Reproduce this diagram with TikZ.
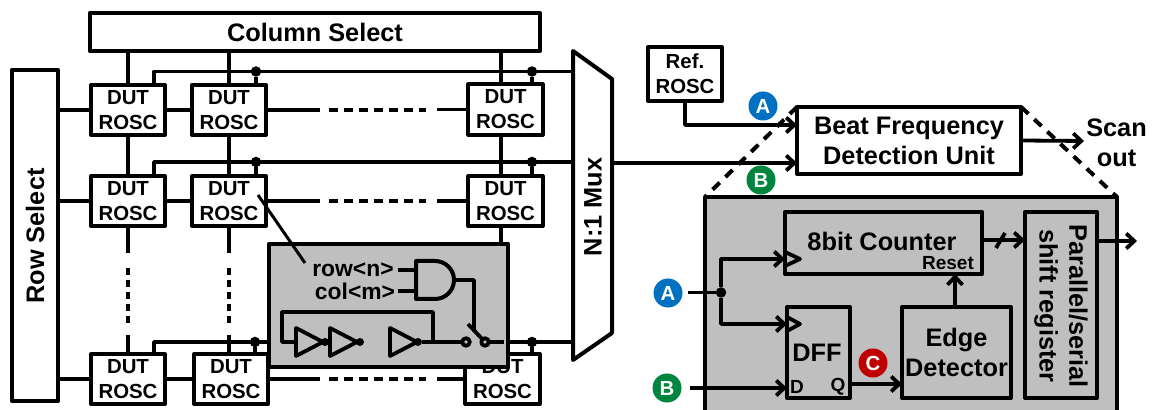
\documentclass[tikz,border=0pt]{standalone}
\usepackage{fontspec}
\setmainfont{Liberation Sans}
\usetikzlibrary{arrows.meta}
\definecolor{panelgray}{HTML}{BFBFBF}
\definecolor{markblue}{HTML}{0070C0}
\definecolor{markgreen}{HTML}{00853E}
\definecolor{markred}{HTML}{C00000}
\tikzset{
  bigtxt/.style={font=\bfseries\fontsize{7.2}{8.5}\selectfont},
  midtxt/.style={font=\bfseries\fontsize{6.5}{8}\selectfont},
  smalltxt/.style={font=\bfseries\fontsize{5.4}{6.5}\selectfont},
  block/.style={draw,line width=.4mm,rectangle,inner sep=0,outer sep=0,align=center},
  dutbox/.style={block,fill=white,minimum width=.74cm,minimum height=.5cm,
    font=\bfseries\fontsize{5.8}{7.1}\selectfont},
  badge/.style={circle,inner sep=0,outer sep=0,minimum size=.29cm,text=white,
    font=\bfseries\fontsize{5.8}{7}\selectfont},
  jdot/.style={circle,fill=black,inner sep=0,outer sep=0,minimum size=.105cm},
  invdot/.style={circle,fill=black,inner sep=0,outer sep=0,minimum size=.08cm},
  swpin/.style={circle,draw,fill=panelgray,inner sep=0,outer sep=0,minimum size=.075cm},
  rowdots/.style={dash pattern=on .9mm off .6mm},
  coldots/.style={dash pattern=on 2.7mm off 1.5mm on .7mm off .5mm on .7mm off .5mm on .7mm off .5mm
    on .7mm off .5mm on .7mm off 1.2mm on 3mm},
  zoomline/.style={dash pattern=on 1mm off .8mm,line width=.4mm}
}

\begin{document}
\begin{tikzpicture}[x=.01cm,y=-.01cm,line width=.38mm,line join=round,
  >={Straight Barb[length=.8mm,width=1.5mm]}]
\useasboundingbox (0,0) rectangle (1155,410);
% Select blocks
\node [block,minimum width=4.5cm,minimum height=.38cm,bigtxt] (colsel) at (315,32) {Column Select};
\node [block,minimum width=.46cm,minimum height=3.31cm] (rowsel) at (35,235.5) {};
\node [bigtxt,rotate=90] (rowtxt) at (35,236) {Row Select};
% DUT array
\node [dutbox] (d11) at (128,110) {DUT\\ROSC};
\node [dutbox] (d12) at (229,110) {DUT\\ROSC};
\node [dutbox] (d13) at (505.5,109.5) {DUT\\ROSC};
\node [dutbox] (d21) at (128,201) {DUT\\ROSC};
\node [dutbox] (d22) at (229,201) {DUT\\ROSC};
\node [dutbox] (d23) at (505.5,201) {DUT\\ROSC};
\node [dutbox] (d31) at (128,379) {DUT\\ROSC};
\node [dutbox] (d32) at (231,379) {DUT\\ROSC};
\node [dutbox] (d33) at (502.5,379) {DUT\\ROSC};
% Column wires
\coordinate (colc) at (501,51);
\draw (colsel.south -| d11.north) -- (d11.north);
\draw (colsel.south -| d12.north) -- (d12.north);
\draw (colc) -- (colc |- d13.north);
\draw (d11.south) -- (d21.north);
\draw (d12.south) -- (d22.north);
\draw (colc |- d13.south) -- (colc |- d23.north);
\draw [coldots] (d21.south) -- (d21.south |- d31.north);
\draw [coldots] (d22.south) -- (d22.south |- d32.north);
\draw (colc |- d23.south) -- (colc |- d33.north);
% Row wires
\coordinate (gapa) at (320,0);
\coordinate (gapb) at (329,0);
\coordinate (gapc) at (426,0);
\coordinate (gapd) at (437,0);
\draw (rowsel.east |- d11.west) -- (d11.west);
\draw (d11.east) -- (d12.west);
\draw (d12.east) -- (gapa |- d12.east);
\draw [rowdots] (gapb |- d12.east) -- (gapc |- d12.east);
\draw (gapd |- d13.west) -- (d13.west);
\draw (rowsel.east |- d21.west) -- (d21.west);
\draw (d21.east) -- (d22.west);
\draw (d22.east) -- (gapa |- d22.east);
\draw [rowdots] (gapb |- d22.east) -- (gapc |- d22.east);
\draw (gapd |- d23.west) -- (d23.west);
\draw (rowsel.east |- d31.west) -- (d31.west);
\draw (d31.east) -- (d32.west);
\draw (d32.east) -- (gapa |- d32.east);
\draw [rowdots] (gapb |- d32.east) -- (gapc |- d32.east);
\draw (gapd |- d33.west) -- (d33.west);
% N:1 mux
\coordinate (muxtl) at (573,51);
\coordinate (muxtr) at (612,79);
\coordinate (muxbr) at (612,333);
\coordinate (muxbl) at (573,360);
\draw [line width=.4mm] (muxtl) -- (muxtr) -- (muxbr) -- (muxbl) -- cycle;
\node [bigtxt,rotate=90] (muxtxt) at (593,207) {N:1 Mux};
% Output buses
\coordinate (bus1) at (154,71.5);
\coordinate (bus2) at (154,162);
\coordinate (bus3) at (154,342);
\draw (d11.north -| bus1) -- (bus1) -- (bus1 -| muxtl);
\draw (d21.north -| bus2) -- (bus2) -- (bus2 -| muxtl);
\draw (d31.north -| bus3) -- (bus3) -- (bus3 -| muxtl);
\node [jdot] (j12) at (256,71.5) {};
\node [jdot] (j13) at (532,71.5) {};
\node [jdot] (j22) at (256,162) {};
\node [jdot] (j23) at (532,162) {};
\node [jdot] (j32) at (255,342) {};
\node [jdot] (j33) at (532,342) {};
\draw (j12) -- (j12 |- d12.north);
\draw (j13) -- (j13 |- d13.north);
\draw (j22) -- (j22 |- d22.north);
\draw (j23) -- (j23 |- d23.north);
\draw (j32) -- (j32 |- d32.north);
\draw (j33) -- (j33 |- d33.north);
% Cell detail
\node [block,fill=panelgray,minimum width=2.39cm,minimum height=1.23cm] (cell) at (388.5,305.5) {};
\coordinate (callout) at (258,195);
\coordinate (calloutb) at (305,263);
\draw [line width=.3mm] (callout) -- (calloutb);
\node [midtxt,inner sep=.04cm,outer sep=0] (rown) at (353,270) {row<n>};
\node [midtxt,inner sep=.03cm,outer sep=0] (colm) at (355,291) {col<m>};
% AND gate
\coordinate (andtop) at (416,261);
\coordinate (andbot) at (416,299);
\coordinate (andout) at (454,280);
\draw [line width=.4mm] (andtop) -- (435,261) arc [start angle=-90,end angle=90,radius=19] -- (andbot) -- cycle;
\draw (rown.east) -- (rown.east -| andtop);
\draw (colm.east) -- (colm.east -| andtop);
% Ring oscillator
\draw (296,328) -- (323,342) -- (296,356) -- cycle;
\draw (330,328) -- (357,342) -- (330,356) -- cycle;
\draw (390,328) -- (417,342) -- (390,356) -- cycle;
\node [invdot] (inv1) at (325,342) {};
\node [invdot] (inv2) at (360,342) {};
\node [invdot] (inv3) at (418,342) {};
\coordinate (fbk) at (433,342);
\coordinate (inv1in) at (296,342);
\draw (inv1) -- (330,342);
\draw (fbk) |- (282,312) |- (inv1in);
% Switch
\node [swpin] (swl) at (466,342) {};
\node [swpin] (swr) at (485,342) {};
\coordinate (swarm) at (468,324);
\coordinate (swctl) at (474,330);
\coordinate (swout) at (504,342);
\draw (inv3) -- (swl);
\draw (swr) -- (swout);
\draw (swr) -- (swarm);
\draw (andout) -| (swctl);
% Reference oscillator and beat detection
\node [block,fill=white,minimum width=.74cm,minimum height=.54cm,
  font=\bfseries\fontsize{5.8}{7}\selectfont] (ref) at (685,74) {Ref.\\ROSC};
\node [block,fill=white,minimum width=2.24cm,minimum height=.67cm,bigtxt] (beat) at (909,140.5) {Beat Frequency\\Detection Unit};
\coordinate (beata) at (797,125);
\coordinate (beatb) at (797,163);
\coordinate (muxo) at (612,163);
\coordinate (scanend) at (1084,141);
\draw [->] (ref.south) |- (beata);
\draw [->] (muxo) -- (beatb);
\draw [->] (beat.east) -- (scanend);
\node [bigtxt,align=center] (scan) at (1116.5,143) {Scan\\out};
\node [badge,fill=markblue] (atop) at (763,106) {A};
\node [badge,fill=markgreen] (btop) at (761,180) {B};
% Detail panel
\coordinate (gtl) at (705,197);
\coordinate (gtr) at (1117,197);
\coordinate (gbl) at (705,410);
\coordinate (gbr) at (1117,410);
\fill [panelgray] (gtl) rectangle (gbr);
\draw [line width=.4mm] (gbl) -- (gtl) -- (gtr) -- (gbr);
\draw [zoomline] (beat.north west) -- (gtl);
\draw [zoomline] (beat.north east) -- (gtr);
\node [block,minimum width=1.97cm,minimum height=.62cm] (cnt) at (883.5,243) {};
\node [bigtxt] (cnttxt) at (882,241) {8bit Counter};
\node [smalltxt] (rsttxt) at (948,263) {Reset};
\node [block,minimum width=.63cm,minimum height=.91cm] (dff) at (818.5,352.5) {};
\node [bigtxt] (dfftxt) at (817,353) {DFF};
\node [smalltxt] (dtxt) at (797,387) {D};
\node [smalltxt] (qtxt) at (838,387) {Q};
\node [block,minimum width=1.09cm,minimum height=.91cm,bigtxt] (edge) at (956.5,352.5) {Edge\\Detector};
\node [block,minimum width=.72cm,minimum height=1.86cm] (shreg) at (1061,305) {};
\node [bigtxt,rotate=-90,align=center] (shtxt) at (1061,306) {Parallel/serial\\shift register};
% Detail wiring
\node [badge,fill=markblue] (aa) at (668,293) {A};
\node [badge,fill=markgreen] (bb) at (667,388) {B};
\node [badge,fill=markred] (cc) at (873,363) {C};
\node [jdot] (ja) at (721,292.5) {};
\coordinate (ain) at (688,292.5);
\coordinate (bin) at (690,388);
\coordinate (clkcnt) at (785,259);
\coordinate (clkdff) at (787,324);
\coordinate (qout) at (850,384);
\coordinate (cntout) at (982,240);
\coordinate (shout) at (1137,241);
\coordinate (rstup) at (955,274);
\draw (ain) -- (ja);
\draw [->] (ja) |- (clkcnt);
\draw [->] (ja) |- (clkdff);
\draw [->] (bin) -- (bin -| dff.west);
\draw [->] (qout) -- (qout -| edge.west);
\draw [->] (edge.north -| rstup) -- (rstup);
\draw [->] (cntout) -- (cntout -| shreg.west);
\draw [->] (shout -| shreg.east) -- (shout);
\draw (996,248) -- (1005,233);
\draw (785,252) -- (800,259) -- (785,266);
\draw (787,317) -- (800,324) -- (787,331);
\end{tikzpicture}
\end{document}
